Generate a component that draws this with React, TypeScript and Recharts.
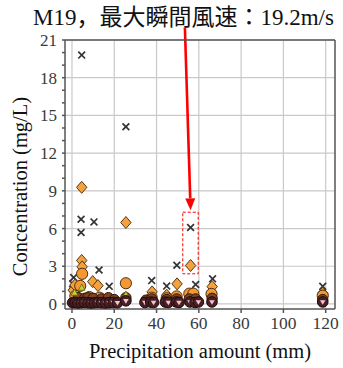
import React from "react";
import {
  ScatterChart,
  Scatter,
  XAxis,
  YAxis,
  CartesianGrid,
  ReferenceArea,
  ReferenceLine,
} from "recharts";

type Pt = { x: number; y: number };

const SERIF = "'Liberation Serif', 'Times New Roman', serif";
const TITLE_FONT = "'Liberation Serif', 'Noto Sans CJK JP', serif";

const titleText = "M19，最大瞬間風速：19.2m/s";
const xLabel = "Precipitation amount (mm)";
const yLabel = "Concentration (mg/L)";

const xDomain = [-3.3, 124.4];
const yDomain = [-0.4, 21];
const xTicks = [0, 20, 40, 60, 80, 100, 120];
const xMinorTicks = [0, 10, 20, 30, 40, 50, 60, 70, 80, 90, 100, 110, 120];
const yTicks = [0, 3, 6, 9, 12, 15, 18, 21];
const yMinorTicks = [
  0, 1, 2, 3, 4, 5, 6, 7, 8, 9, 10, 11, 12, 13, 14, 15, 16, 17, 18, 19, 20, 21,
];

// highlighted sample (M19) box and the arrow pointing at it
const boxX = [52.4, 59.7];
const boxY = [2.4, 7.3];
const arrowFrom = { x: 53.4, y: 22 };
const arrowTo = { x: 56.1, y: 7.45 };

const crossPoints: Pt[] = [
  { x: 0.8, y: 2.1 },
  { x: 0.3, y: 1.6 },
  { x: 4.6, y: 19.8 },
  { x: 4.3, y: 6.74 },
  { x: 4.3, y: 5.68 },
  { x: 10.4, y: 6.53 },
  { x: 12.8, y: 2.7 },
  { x: 17.6, y: 1.4 },
  { x: 25.5, y: 14.1 },
  { x: 37.7, y: 1.86 },
  { x: 44.8, y: 1.42 },
  { x: 49.6, y: 3.08 },
  { x: 56.1, y: 6.08 },
  { x: 58.5, y: 1.55 },
  { x: 66.5, y: 2.0 },
  { x: 118.6, y: 1.4 },
];

const diamondPoints: Pt[] = [
  { x: 4.6, y: 9.28 },
  { x: 4.6, y: 3.46 },
  { x: 4.8, y: 2.95 },
  { x: 0.6, y: 1.1 },
  { x: 1.4, y: 1.5 },
  { x: 9.8, y: 1.78 },
  { x: 12.3, y: 1.46 },
  { x: 25.5, y: 6.48 },
  { x: 37.9, y: 0.96 },
  { x: 44.8, y: 0.7 },
  { x: 49.7, y: 1.6 },
  { x: 56.1, y: 3.06 },
  { x: 66.3, y: 1.38 },
  { x: 118.6, y: 0.85 },
];

const orangeCirclePoints: Pt[] = [
  { x: 4.8, y: 2.4 },
  { x: 3.9, y: 1.44 },
  { x: 1.6, y: 0.64 },
  { x: 8.2, y: 0.55 },
  { x: 13.0, y: 0.5 },
  { x: 25.5, y: 1.65 },
  { x: 37.7, y: 0.5 },
  { x: 44.8, y: 0.45 },
  { x: 49.5, y: 0.6 },
  { x: 55.5, y: 0.82 },
  { x: 57.4, y: 0.82 },
  { x: 66.0, y: 0.8 },
  { x: 118.6, y: 0.66 },
];

const brownCirclePoints: Pt[] = [
  { x: 3.0, y: 0.5 },
  { x: 6.0, y: 0.45 },
  { x: 7.5, y: 0.5 },
  { x: 10.0, y: 0.45 },
  { x: 14.0, y: 0.4 },
  { x: 17.2, y: 0.5 },
  { x: 20.0, y: 0.35 },
  { x: 25.5, y: 0.5 },
  { x: 35.0, y: 0.3 },
  { x: 37.7, y: 0.4 },
  { x: 44.8, y: 0.35 },
  { x: 49.5, y: 0.4 },
  { x: 55.5, y: 0.4 },
  { x: 58.5, y: 0.4 },
  { x: 66.3, y: 0.45 },
  { x: 118.6, y: 0.35 },
];

const trianglePoints: Pt[] = [
  { x: 4.6, y: 1.3 },
  { x: 1.2, y: 0.9 },
  { x: 25.5, y: 0.75 },
];

const darkCirclePoints: Pt[] = [
  { x: 0.3, y: 0.1 },
  { x: 1.5, y: 0.12 },
  { x: 2.8, y: 0.08 },
  { x: 4.3, y: 0.1 },
  { x: 5.8, y: 0.12 },
  { x: 7.5, y: 0.1 },
  { x: 9.0, y: 0.08 },
  { x: 10.6, y: 0.1 },
  { x: 12.2, y: 0.12 },
  { x: 14.0, y: 0.1 },
  { x: 15.8, y: 0.08 },
  { x: 17.6, y: 0.1 },
  { x: 19.5, y: 0.12 },
  { x: 21.5, y: 0.1 },
  { x: 25.5, y: 0.25 },
  { x: 34.5, y: 0.12 },
  { x: 37.2, y: 0.15 },
  { x: 38.6, y: 0.12 },
  { x: 44.2, y: 0.15 },
  { x: 45.6, y: 0.12 },
  { x: 49.3, y: 0.16 },
  { x: 50.6, y: 0.12 },
  { x: 55.8, y: 0.16 },
  { x: 58.2, y: 0.12 },
  { x: 59.8, y: 0.16 },
  { x: 66.2, y: 0.16 },
  { x: 118.6, y: 0.16 },
];

const CrossShape = (props: any) => {
  const { cx, cy } = props;
  const s = 3.4;
  return (
    <g stroke="#333" strokeWidth={1.7}>
      <line x1={cx - s} y1={cy - s} x2={cx + s} y2={cy + s} />
      <line x1={cx - s} y1={cy + s} x2={cx + s} y2={cy - s} />
    </g>
  );
};

const DiamondShape = (props: any) => {
  const { cx, cy } = props;
  return (
    <polygon
      points={`${cx},${cy - 6} ${cx + 5.2},${cy} ${cx},${cy + 6} ${cx - 5.2},${cy}`}
      fill="#f2a340"
      stroke="#5a3412"
      strokeWidth={1}
    />
  );
};

const OrangeCircle = (props: any) => (
  <circle cx={props.cx} cy={props.cy} r={5.6} fill="#f39934" stroke="#4f2e10" strokeWidth={1} />
);

const BrownCircle = (props: any) => (
  <circle cx={props.cx} cy={props.cy} r={5.2} fill="#7d4322" stroke="#2e1608" strokeWidth={1} />
);

const TriangleShape = (props: any) => {
  const { cx, cy } = props;
  return (
    <polygon
      points={`${cx},${cy - 3.6} ${cx + 3.4},${cy + 2.6} ${cx - 3.4},${cy + 2.6}`}
      fill="#c4cf3c"
      stroke="#5b6412"
      strokeWidth={0.8}
    />
  );
};

const DarkCircle = (props: any) => {
  const { cx, cy } = props;
  return (
    <g>
      <circle cx={cx} cy={cy} r={5.3} fill="#4a2024" stroke="#1e0a0a" strokeWidth={1} />
      <polygon
        points={`${cx - 2.8},${cy - 1.8} ${cx + 2.8},${cy - 1.8} ${cx},${cy + 2.8}`}
        fill="#f2c4d4"
      />
    </g>
  );
};

// labels only every 3 units, minor tick marks stay on the axis
const renderYTick = (props: any) => {
  const { x, y, payload } = props;
  if (payload.value % 3 !== 0) return <g />;
  return (
    <text x={x} y={y} dy="0.35em" textAnchor="end" fontSize={17} fontFamily={SERIF} fill="#3a3a3a">
      {payload.value}
    </text>
  );
};

const renderYLabel = (props: any) => {
  const vb = props.viewBox;
  const cx = vb.x - 8.5;
  const cy = vb.y + vb.height / 2 + 12;
  return (
    <text
      x={cx}
      y={cy}
      transform={`rotate(-90 ${cx} ${cy})`}
      textAnchor="middle"
      fontSize={20.5}
      fontFamily={SERIF}
      fill="#111"
    >
      {yLabel}
    </text>
  );
};

const renderArrow = (props: any) => {
  const { x1, y1, x2, y2 } = props;
  const dx = x2 - x1;
  const dy = y2 - y1;
  const len = Math.sqrt(dx * dx + dy * dy);
  const ux = dx / len;
  const uy = dy / len;
  const head = 12;
  const half = 5;
  const bx = x2 - ux * head;
  const by = y2 - uy * head;
  return (
    <g>
      <line x1={x1} y1={y1} x2={bx} y2={by} stroke="#ff0000" strokeWidth={2.6} />
      <polygon
        points={`${x2},${y2} ${bx - uy * half},${by + ux * half} ${bx + uy * half},${by - ux * half}`}
        fill="#ff0000"
      />
    </g>
  );
};

const axisStroke = { stroke: "#555", strokeWidth: 1.5 };

export default function App() {
  return (
    <div style={{ position: "absolute", left: 0, top: 0, width: 343, height: 368, background: "#fff" }}>
      <ScatterChart width={343} height={368} margin={{ top: 36, right: 0, bottom: 0, left: 35 }}>
        <CartesianGrid
          stroke="#c9c9c9"
          strokeWidth={1.2}
          horizontalValues={yTicks}
          verticalValues={xTicks}
        />
        <XAxis
          type="number"
          dataKey="x"
          domain={xDomain}
          allowDataOverflow
          ticks={xTicks}
          interval={0}
          height={59}
          tickSize={4}
          tickMargin={4}
          axisLine={axisStroke}
          tickLine={axisStroke}
          tick={{ fill: "#3a3a3a", fontSize: 17.5, fontFamily: SERIF }}
          label={{
            value: xLabel,
            position: "insideBottom",
            offset: 10,
            fontSize: 20.5,
            fontFamily: SERIF,
            fill: "#111",
          }}
        />
        <XAxis
          xAxisId="top"
          orientation="top"
          type="number"
          domain={xDomain}
          allowDataOverflow
          ticks={xMinorTicks}
          interval={0}
          height={4}
          tickSize={3}
          tick={false}
          axisLine={axisStroke}
          tickLine={axisStroke}
        />
        <YAxis
          type="number"
          dataKey="y"
          domain={yDomain}
          allowDataOverflow
          ticks={yMinorTicks}
          interval={0}
          width={30}
          tickSize={3}
          tickMargin={5}
          axisLine={axisStroke}
          tickLine={axisStroke}
          tick={renderYTick}
          label={{ content: renderYLabel }}
        />
        <YAxis
          yAxisId="r"
          orientation="right"
          type="number"
          domain={yDomain}
          allowDataOverflow
          ticks={yMinorTicks}
          interval={0}
          width={8}
          tickSize={3}
          tick={false}
          axisLine={axisStroke}
          tickLine={axisStroke}
        />
        <Scatter data={crossPoints} shape={CrossShape} isAnimationActive={false} />
        <Scatter data={diamondPoints} shape={DiamondShape} isAnimationActive={false} />
        <Scatter data={orangeCirclePoints} shape={OrangeCircle} isAnimationActive={false} />
        <Scatter data={brownCirclePoints} shape={BrownCircle} isAnimationActive={false} />
        <Scatter data={trianglePoints} shape={TriangleShape} isAnimationActive={false} />
        <Scatter data={darkCirclePoints} shape={DarkCircle} isAnimationActive={false} />
        <ReferenceArea
          x1={boxX[0]}
          x2={boxX[1]}
          y1={boxY[0]}
          y2={boxY[1]}
          fill="none"
          stroke="#ff0000"
          strokeWidth={1}
          strokeDasharray="3 2"
          ifOverflow="visible"
        />
        <ReferenceLine
          segment={[arrowFrom, arrowTo]}
          ifOverflow="visible"
          shape={renderArrow}
        />
      </ScatterChart>
      <svg
        width={343}
        height={34}
        style={{ position: "absolute", left: 0, top: 0, pointerEvents: "none" }}
      >
        <text x={183.5} y={25} textAnchor="middle" fontSize={23} fontFamily={TITLE_FONT} fill="#111">
          {titleText}
        </text>
      </svg>
    </div>
  );
}
